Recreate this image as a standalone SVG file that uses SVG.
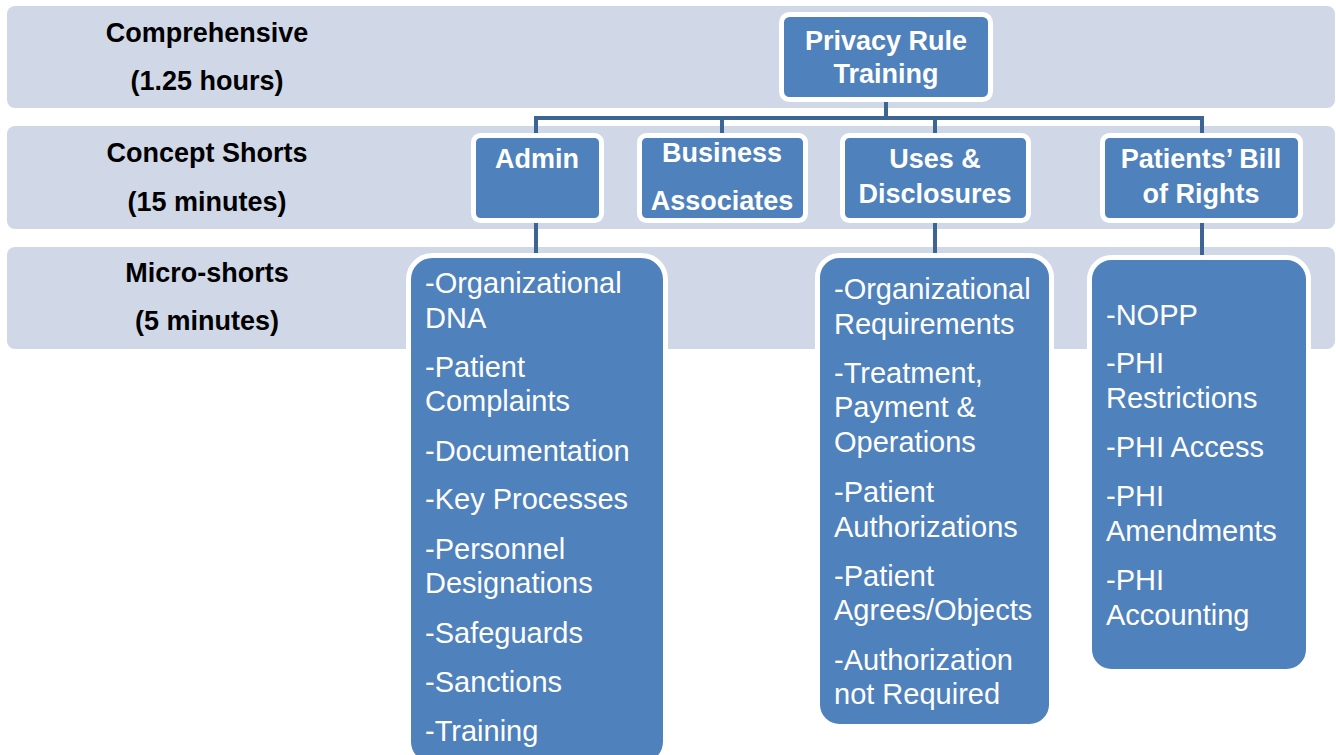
<svg xmlns="http://www.w3.org/2000/svg" width="1336" height="755" viewBox="0 0 1336 755">
<style>
.band{fill:#D0D8E8}
.box{fill:#4F81BD;stroke:#FFFFFF;stroke-width:5}
.lbl{font-family:"Liberation Sans",Arial,sans-serif;font-weight:bold;font-size:27px;fill:#000000;text-anchor:middle}
.hd{font-family:"Liberation Sans",Arial,sans-serif;font-weight:bold;font-size:27px;fill:#FFFFFF;text-anchor:middle}
.li{font-family:"Liberation Sans",Arial,sans-serif;font-size:29px;fill:#FFFFFF}
.con{fill:none;stroke:#3C6494;stroke-width:4}
</style>
<rect width="1336" height="755" fill="#FFFFFF"/>
<g id="bands">
<rect class="band" x="7" y="6" width="1328" height="102" rx="8"/>
<rect class="band" x="7" y="126" width="1328" height="103" rx="8"/>
<rect class="band" x="7" y="247" width="1328" height="102" rx="8"/>
<text class="lbl" x="207" y="42">Comprehensive</text>
<text class="lbl" x="207" y="90">(1.25 hours)</text>
<text class="lbl" x="207" y="162">Concept Shorts</text>
<text class="lbl" x="207" y="211">(15 minutes)</text>
<text class="lbl" x="207" y="282">Micro-shorts</text>
<text class="lbl" x="207" y="330">(5 minutes)</text>
</g>
<g id="connectors">
<path class="con" d="M886 101 V118 M536 118 H1202 M536 116 V134 M722 116 V134 M935 116 V134 M1202 116 V134"/>
<path class="con" d="M536 221 V255 M935 221 V255 M1202 221 V257"/>
</g>
<g id="root">
<rect class="box" x="781.5" y="14.5" width="209" height="85" rx="8"/>
<text class="hd" x="886" y="50">Privacy Rule</text>
<text class="hd" x="886" y="83">Training</text>
</g>
<g id="admin">
<rect class="box" x="473.5" y="135.5" width="128" height="85" rx="7"/>
<text class="hd" x="537" y="168">Admin</text>
</g>
<g id="business">
<rect class="box" x="639.5" y="135.5" width="166" height="85" rx="7"/>
<text class="hd" x="722" y="162">Business</text>
<text class="hd" x="722" y="210">Associates</text>
</g>
<g id="uses">
<rect class="box" x="842.5" y="135.5" width="186" height="85" rx="7"/>
<text class="hd" x="935" y="168">Uses &amp;</text>
<text class="hd" x="935" y="203">Disclosures</text>
</g>
<g id="patients">
<rect class="box" x="1102.5" y="135.5" width="198" height="85" rx="7"/>
<text class="hd" x="1201" y="168">Patients’ Bill</text>
<text class="hd" x="1201" y="203">of Rights</text>
</g>
<g id="admin-list">
<rect class="box" x="408.5" y="255.5" width="257" height="510" rx="24"/>
<text class="li" x="425" y="293">-Organizational</text>
<text class="li" x="425" y="328">DNA</text>
<text class="li" x="425" y="377">-Patient</text>
<text class="li" x="425" y="411">Complaints</text>
<text class="li" x="425" y="461">-Documentation</text>
<text class="li" x="425" y="509">-Key Processes</text>
<text class="li" x="425" y="559">-Personnel</text>
<text class="li" x="425" y="593">Designations</text>
<text class="li" x="425" y="643">-Safeguards</text>
<text class="li" x="425" y="692">-Sanctions</text>
<text class="li" x="425" y="741">-Training</text>
</g>
<g id="uses-list">
<rect class="box" x="817.5" y="255.5" width="234" height="471" rx="22"/>
<text class="li" x="834" y="299">-Organizational</text>
<text class="li" x="834" y="334">Requirements</text>
<text class="li" x="834" y="383">-Treatment,</text>
<text class="li" x="834" y="417">Payment &amp;</text>
<text class="li" x="834" y="452">Operations</text>
<text class="li" x="834" y="502">-Patient</text>
<text class="li" x="834" y="537">Authorizations</text>
<text class="li" x="834" y="586">-Patient</text>
<text class="li" x="834" y="620">Agrees/Objects</text>
<text class="li" x="834" y="670">-Authorization</text>
<text class="li" x="834" y="704">not Required</text>
</g>
<g id="patients-list">
<rect class="box" x="1089.5" y="257.5" width="219" height="414" rx="22"/>
<text class="li" x="1106" y="325">-NOPP</text>
<text class="li" x="1106" y="373">-PHI</text>
<text class="li" x="1106" y="408">Restrictions</text>
<text class="li" x="1106" y="457">-PHI Access</text>
<text class="li" x="1106" y="506">-PHI</text>
<text class="li" x="1106" y="541">Amendments</text>
<text class="li" x="1106" y="590">-PHI</text>
<text class="li" x="1106" y="625">Accounting</text>
</g>
</svg>
